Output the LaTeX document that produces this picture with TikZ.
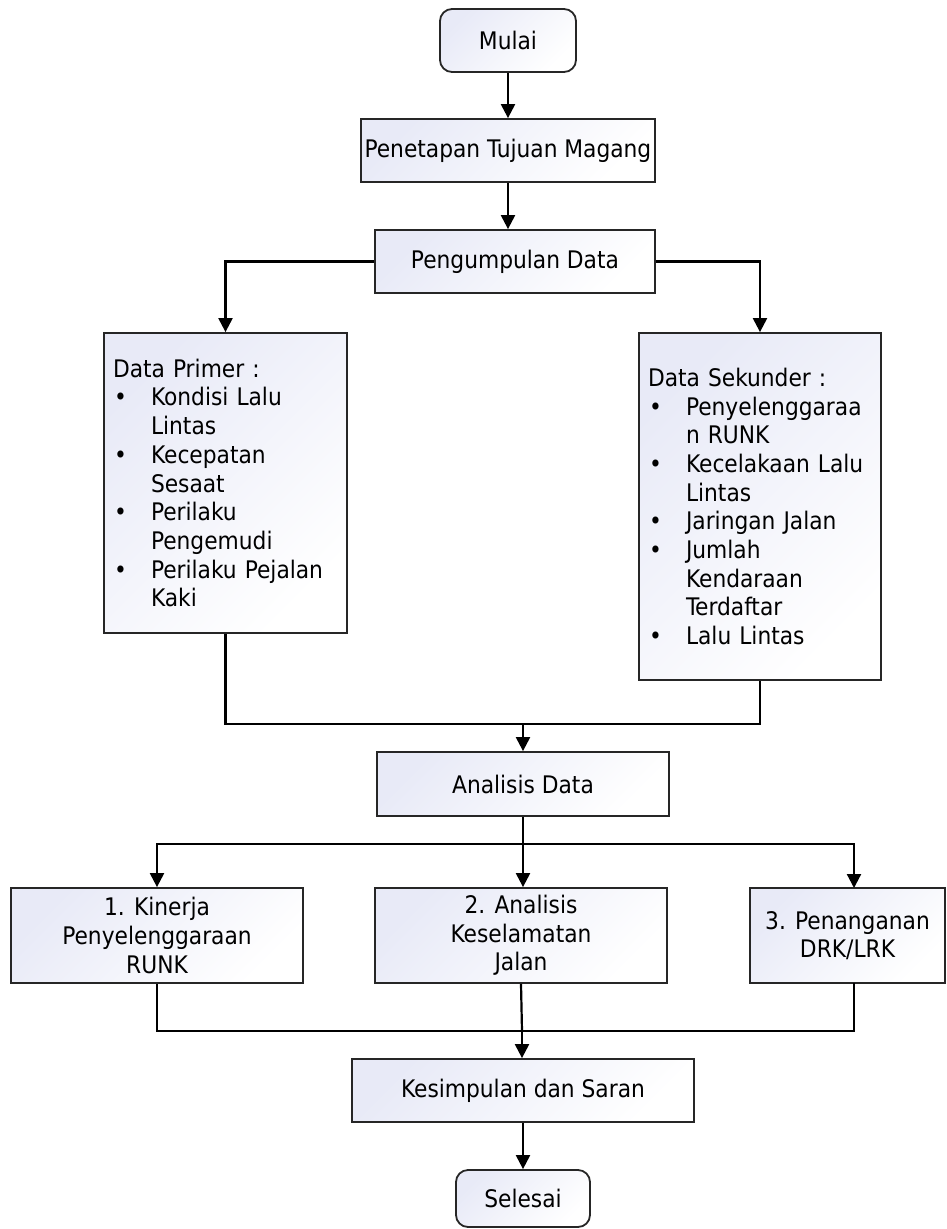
\documentclass[tikz,border=0pt]{standalone}
\usepackage{fontspec}
\setmainfont{DejaVu Sans Condensed}
\usepackage{xcolor}
\usetikzlibrary{arrows.meta, positioning, calc}
\definecolor{boxshade}{RGB}{232,234,247}
\newcommand{\dotitem}{\makebox[38pt][l]{\hspace*{1pt}\textbullet}}
\newcommand{\dotpad}{\hspace*{38pt}}

\begin{document}
\begin{tikzpicture}[x=1pt, y=-1pt,
    base/.style={draw=black!85, line width=1.8pt, top color=boxshade, bottom color=white,
        shading angle=45, font=\fontsize{24.2}{28.7}\selectfont, inner sep=0pt},
    process/.style={base, rectangle, align=center},
    terminal/.style={base, rounded corners=12pt, align=center},
    listbox/.style={base, align=left, inner xsep=9pt},
    arr/.style={line width=2.2pt, -{Triangle[length=14pt,width=14pt]}},
    link/.style={line width=2.2pt}]
\useasboundingbox (0,0) rectangle (947,1229);

% top
\node[terminal, minimum width=136pt, minimum height=63pt] (start) at (508,40.5) {Mulai};
\node[process, minimum width=294pt, minimum height=63pt] (aim) at (508,150.5) {Penetapan Tujuan Magang};
\node[process, minimum width=280pt, minimum height=63pt] (collect) at (515,261.5) {Pengumpulan Data};

% data
\node[listbox, text width=225pt, minimum height=300pt] (primer) at (225.5,483) {Data Primer :\\
\dotitem Kondisi Lalu\\ \dotpad Lintas\\
\dotitem Kecepatan\\ \dotpad Sesaat\\
\dotitem Perilaku\\ \dotpad Pengemudi\\
\dotitem Perilaku Pejalan\\ \dotpad Kaki};
\node[listbox, text width=224pt, minimum height=347pt] (sekunder) at (760,506.5) {Data Sekunder :\\
\dotitem Penyelenggaraa\\ \dotpad n RUNK\\
\dotitem Kecelakaan Lalu\\ \dotpad Lintas\\
\dotitem Jaringan Jalan\\
\dotitem Jumlah\\ \dotpad Kendaraan\\ \dotpad Terdaftar\\
\dotitem Lalu Lintas};

% analysis
\node[process, minimum width=292pt, minimum height=64pt] (analysis) at (523,784) {Analisis Data};
\node[process, minimum width=292pt, minimum height=95pt] (kinerja) at (157,935.5) {1. Kinerja\\Penyelenggaraan\\RUNK};
\node[process, minimum width=292pt, minimum height=95pt] (safety) at (521,935.5) {2. Analisis\\Keselamatan\\Jalan};
\node[process, minimum width=195pt, minimum height=95pt] (handling) at (847.5,935.5) {3. Penanganan\\DRK/LRK};

% end
\node[process, minimum width=342pt, minimum height=63pt] (conclude) at (523,1090.5) {Kesimpulan dan Saran};
\node[terminal, minimum width=134pt, minimum height=57pt] (finish) at (523,1198.5) {Selesai};

\coordinate (merge) at (523,724);
\coordinate (split) at (523,844);
\coordinate (handin) at (854,888);
\coordinate (handout) at (854,983);
\coordinate (join) at (522,1031);

\draw[arr] (start) -- (aim);
\draw[arr] (aim.south) -- (aim.south |- collect.north);
\draw[arr] (collect.west) -| (primer.north);
\draw[arr] (collect.east) -| (sekunder.north);
\draw[link] (primer.south) |- (merge) -| (sekunder.south);
\draw[arr] (merge) -- (analysis.north);
\draw[link] (analysis.south) -- (split);
\draw[arr] (split) -| (kinerja.north);
\draw[arr] (split) -- (split |- safety.north);
\draw[arr] (split) -| (handin);
\draw[link] (kinerja.south) |- (join) -| (handout);
\draw[link] (safety.south) -- (join);
\draw[arr] (join) -- (join |- conclude.north);
\draw[arr] (conclude) -- (finish);
\end{tikzpicture}
\end{document}
